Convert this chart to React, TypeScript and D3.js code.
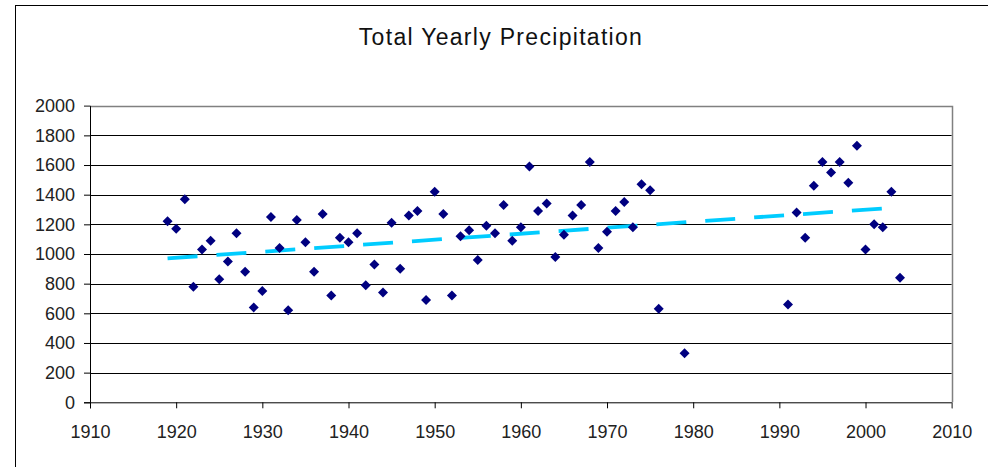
import * as d3 from 'd3'
import React, { useEffect, useRef } from 'react'

// yearly totals (gaps are missing years)
const years = [
  1919, 1920, 1921, 1922, 1923, 1924, 1925, 1926, 1927, 1928, 1929, 1930, 1931, 1932, 1933, 1934, 1935,
  1936, 1937, 1938, 1939, 1940, 1941, 1942, 1943, 1944, 1945, 1946, 1947, 1948, 1949, 1950, 1951, 1952,
  1953, 1954, 1955, 1956, 1957, 1958, 1959, 1960, 1961, 1962, 1963, 1964, 1965, 1966, 1967, 1968, 1969,
  1970, 1971, 1972, 1973, 1974, 1975, 1976, 1979, 1991, 1992, 1993, 1994, 1995, 1996, 1997, 1998, 1999,
  2000, 2001, 2002, 2003, 2004,
]
const precip = [
  1220, 1170, 1370, 780, 1030, 1090, 830, 950, 1140, 880, 640, 750, 1250, 1040, 620, 1230, 1080,
  880, 1270, 720, 1110, 1080, 1140, 790, 930, 740, 1210, 900, 1260, 1290, 690, 1420, 1270, 720,
  1120, 1160, 960, 1190, 1140, 1330, 1090, 1180, 1590, 1290, 1340, 980, 1130, 1260, 1330, 1620, 1040,
  1150, 1290, 1350, 1180, 1470, 1430, 630, 330, 660, 1280, 1110, 1460, 1620, 1550, 1620, 1480, 1730,
  1030, 1200, 1180, 1420, 840,
]
const xTicks = [1910, 1920, 1930, 1940, 1950, 1960, 1970, 1980, 1990, 2000, 2010]
const yTicks = [0, 200, 400, 600, 800, 1000, 1200, 1400, 1600, 1800, 2000]
const title = 'Total Yearly Precipitation'

const W = 988
const H = 467

const App = () => {
  const ref = useRef(null)

  useEffect(() => {
    const svg = d3.select(ref.current)
    svg.selectAll('*').remove()

    const left = 90
    const right = 951.7
    const top = 105.7
    const bottom = 402.3

    const x = d3.scaleLinear().domain([1910, 2010]).range([left, right])
    const y = d3.scaleLinear().domain([0, 2000]).range([bottom, top])
    const font = 'Arial, "Liberation Sans", sans-serif'

    // outer chart frame
    svg.append('rect')
      .attr('x', 15.5).attr('y', 5.5)
      .attr('width', 1000).attr('height', 500)
      .attr('fill', '#fff').attr('stroke', '#000').attr('stroke-width', 1)

    svg.append('text')
      .attr('x', 501).attr('y', 45)
      .attr('text-anchor', 'middle')
      .attr('font-family', font).attr('font-size', 23)
      .attr('letter-spacing', 1.3)
      .attr('fill', '#111')
      .text(title)

    // gridlines
    svg.append('g')
      .selectAll('line')
      .data(yTicks.filter(t => t > 0 && t < 2000))
      .enter()
      .append('line')
      .attr('x1', left).attr('x2', right)
      .attr('y1', d => Math.round(y(d)) + 0.5).attr('y2', d => Math.round(y(d)) + 0.5)
      .attr('stroke', '#000').attr('stroke-width', 1)

    // plot border (top / right)
    svg.append('path')
      .attr('d', `M${left},${Math.round(top) + 0.5}H${Math.round(right) + 0.5}V${bottom}`)
      .attr('fill', 'none').attr('stroke', '#808080').attr('stroke-width', 1.5)

    // axes
    const yAxis = svg.append('g')
      .attr('transform', `translate(${left},0)`)
      .call(d3.axisLeft(y).tickValues(yTicks).tickSize(6).tickPadding(9).tickFormat(d3.format('d')))
    const xAxis = svg.append('g')
      .attr('transform', `translate(0,${bottom})`)
      .call(d3.axisBottom(x).tickValues(xTicks).tickSize(6).tickPadding(17).tickFormat(d3.format('d')))
    ;[yAxis, xAxis].forEach(g => {
      g.selectAll('path, line').attr('stroke', '#000')
      g.selectAll('text').attr('font-family', font).attr('font-size', 18).attr('fill', '#222')
    })
    yAxis.select('.tick:last-of-type line').attr('stroke', '#808080')
    xAxis.select('.tick:last-of-type line').attr('stroke', '#808080')

    // linear trend from the data
    const mx = d3.mean(years) as number
    const my = d3.mean(precip) as number
    let sxy = 0
    let sxx = 0
    years.forEach((yr, i) => {
      sxy += (yr - mx) * (precip[i] - my)
      sxx += (yr - mx) * (yr - mx)
    })
    const slope = sxy / sxx
    const icpt = my - slope * mx
    const x0 = d3.min(years) as number
    const x1 = d3.max(years) as number
    svg.append('path')
      .datum([x0, x1])
      .attr('d', d3.line<number>().x(d => x(d)).y(d => y(icpt + slope * d)))
      .attr('fill', 'none')
      .attr('stroke', '#00CCFF')
      .attr('stroke-width', 3.8)
      .attr('stroke-dasharray', '30,19')

    // diamond markers
    const r = 5
    svg.append('g')
      .selectAll('path')
      .data(years.map((yr, i) => [yr, precip[i]]))
      .enter()
      .append('path')
      .attr('d', d => {
        const px = x(d[0])
        const py = y(d[1])
        return `M${px},${py - r}L${px + r},${py}L${px},${py + r}L${px - r},${py}Z`
      })
      .attr('fill', '#000080')
  }, [])

  return (
    <svg
      ref={ref}
      width={W}
      height={H}
      style={{ position: 'absolute', left: 0, top: 0, background: '#fff' }}
    />
  )
}

export default App
